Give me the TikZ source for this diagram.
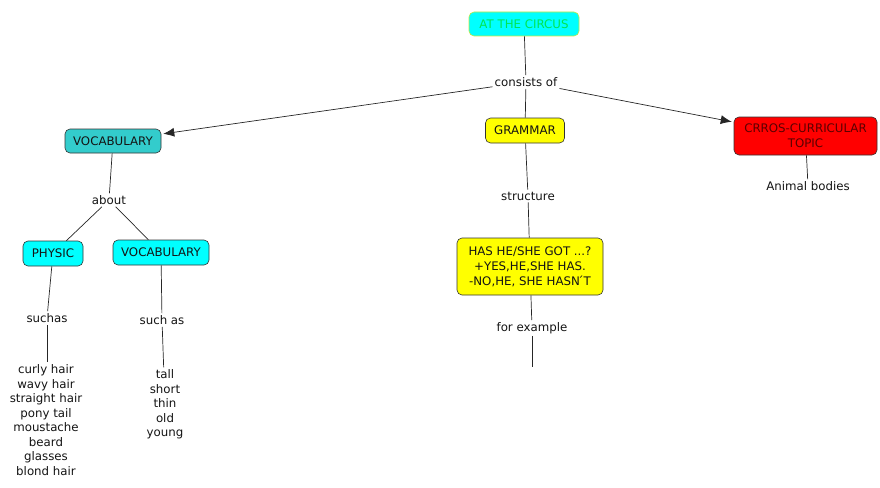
\documentclass[tikz,border=0pt]{standalone}
\usepackage{fontspec}
\setmainfont{DejaVu Sans}
\usetikzlibrary{arrows.meta}
\definecolor{cyanbox}{RGB}{0,255,255}
\definecolor{tealbox}{RGB}{51,204,204}
\definecolor{yellowbox}{RGB}{255,255,0}
\definecolor{redbox}{RGB}{255,0,0}
\definecolor{circtext}{RGB}{0,230,80}
\definecolor{circborder}{RGB}{200,230,60}
\definecolor{darkred}{RGB}{90,0,0}
\definecolor{txt}{RGB}{20,20,20}
\tikzset{
  concept/.style={draw=black!80, rounded corners=5pt, inner sep=0pt, align=center,
    font=\fontsize{11.8}{14}\selectfont, text=txt, line width=0.6pt},
  lbl/.style={inner sep=2pt, font=\fontsize{11.8}{14}\selectfont, text=txt, align=center},
  conn/.style={draw=black!85, line width=0.7pt},
  arr/.style={conn, -{Latex[length=11pt,width=9pt]}, shorten >=2pt}
}
\begin{document}
\begin{tikzpicture}[x=1pt,y=-1pt]
\useasboundingbox (0,0) rectangle (880,487);
% concepts
\node[concept, fill=cyanbox, draw=circborder, text=circtext, minimum width=110pt, minimum height=24pt] (circus) at (524,24) {AT THE CIRCUS};
\node[concept, fill=tealbox, minimum width=96pt, minimum height=24pt] (vocab) at (113,141) {VOCABULARY};
\node[concept, fill=yellowbox, minimum width=79pt, minimum height=25pt] (grammar) at (525,130.5) {GRAMMAR};
\node[concept, fill=redbox, text=darkred, minimum width=143pt, minimum height=38pt, font=\fontsize{11.8}{15}\selectfont] (crros) at (805.5,136) {CRROS-CURRICULAR\\TOPIC};
\node[concept, fill=cyanbox, minimum width=60pt, minimum height=25pt] (physic) at (53,253.5) {PHYSIC};
\node[concept, fill=cyanbox, minimum width=96pt, minimum height=25pt] (vocabb) at (161,252.5) {VOCABULARY};
\node[concept, fill=yellowbox, minimum width=146pt, minimum height=57pt, font=\fontsize{11.8}{15}\selectfont] (has) at (530,266.5) {HAS HE/SHE GOT ...?\\+YES,HE,SHE HAS.\\-NO,HE, SHE HASN\'{}T};
% labels
\node[lbl] (consists) at (526,82) {consists of};
\node[lbl] (about) at (109,200) {about};
\node[lbl] (structure) at (528,196) {structure};
\node[lbl] (animal) at (808,186) {Animal bodies};
\node[lbl] (forex) at (532,328) {for example};
\node[lbl] (suchas) at (47,318) {suchas};
\node[lbl] (suchas2) at (162,320) {such as};
\node[lbl, font=\fontsize{11.8}{14.5}\selectfont] (hairlist) at (46,420) {curly hair\\wavy hair\\straight hair\\pony tail\\moustache\\beard\\glasses\\blond hair};
\node[lbl, font=\fontsize{11.8}{14.6}\selectfont] (adjlist) at (165,404.5) {tall\\short\\thin\\old\\young};
\coordinate (forexend) at (532,367);
% connectors
\draw[conn] (circus) -- (consists);
\draw[arr] (consists) -- (vocab);
\draw[conn] (consists) -- (grammar);
\draw[arr] (consists) -- (crros);
\draw[conn] (crros) -- (animal);
\draw[conn] (vocab) -- (about);
\draw[conn] (about) -- (physic);
\draw[conn] (about) -- (vocabb);
\draw[conn] (physic) -- (suchas);
\draw[conn] (suchas) -- (suchas |- hairlist.north);
\draw[conn] (vocabb) -- (suchas2);
\draw[conn] (suchas2) -- (adjlist);
\draw[conn] (grammar) -- (structure);
\draw[conn] (structure) -- (has);
\draw[conn] (has) -- (forex);
\draw[conn] (forex) -- (forexend);
\end{tikzpicture}
\end{document}
